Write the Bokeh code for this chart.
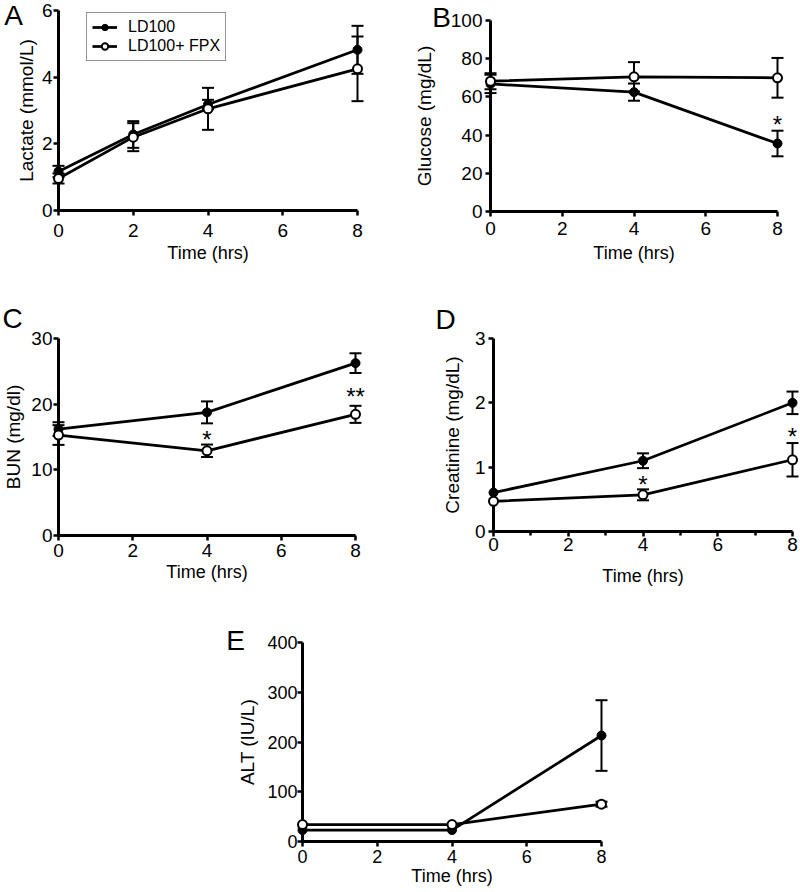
import math
from bokeh.plotting import figure
from bokeh.models import Range1d, FixedTicker, Legend, LegendItem, Spacer
from bokeh.layouts import row, column
from bokeh.embed import file_html
from bokeh.resources import INLINE
from bokeh.core.properties import value

# ---------------- data ----------------
series_names = ["LD100", "LD100+ FPX"]

time_lactate = [0, 2, 4, 8]
lactate_ld100 = [1.17, 2.28, 3.18, 4.82]
lactate_ld100_sem = [0.17, 0.40, 0.14, 0.72]
lactate_fpx = [0.96, 2.20, 3.05, 4.25]
lactate_fpx_sem = [0.15, 0.42, 0.63, 0.97]

time_other = [0, 4, 8]
glucose_ld100 = [66.8, 62.5, 35.6]
glucose_ld100_sem = [4.8, 4.5, 6.7]
glucose_fpx = [68.2, 70.5, 70.0]
glucose_fpx_sem = [4.2, 7.7, 10.4]

bun_ld100 = [16.2, 18.75, 26.25]
bun_ld100_sem = [1.05, 1.67, 1.5]
bun_fpx = [15.3, 12.9, 18.45]
bun_fpx_sem = [1.5, 0.95, 1.3]

creat_ld100 = [0.605, 1.10, 2.00]
creat_ld100_sem = [0.0, 0.115, 0.175]
creat_fpx = [0.47, 0.57, 1.115]
creat_fpx_sem = [0.0, 0.085, 0.26]

alt_ld100 = [23, 23, 213]
alt_ld100_sem = [0, 0, 71]
alt_fpx = [34, 34, 75]
alt_fpx_sem = [0, 0, 5]

x_ticks = [0, 2, 4, 6, 8]
x_minor_ticks_creat = [1, 3, 5, 7]
yticks_lactate = [0, 2, 4, 6]
yticks_glucose = [0, 20, 40, 60, 80, 100]
yticks_bun = [0, 10, 20, 30]
yticks_creat = [0, 1, 2, 3]
yticks_alt = [0, 100, 200, 300, 400]

sig_glucose_x = [8]
sig_glucose_y = [48.5]
sig_glucose_text = ["*"]
sig_bun_x = [4, 8]
sig_bun_y = [15.4, 21.95]
sig_bun_text = ["*", "**"]
sig_creat_x = [4, 8]
sig_creat_y = [0.81, 1.556]
sig_creat_text = ["*", "*"]

FONT = "Liberation Sans"
TOP_LEVEL = "overlay"   # drawn above axes and not clipped to the frame


def make_panel(box, axes, ymax, yticks, ytitle, letter, letter_c,
               t, ld, ld_e, fx, fx_e, sig=None, minor=None,
               tick_fs="19px", xtitle_fs="18px", ylab_std=2, ytitle_std=2,
               xlab_std=4, xtitle_std=2):
    fl, ft, fw, fh = box
    x0, x8, ytop, y0 = axes
    ppx = (x8 - x0) / 8.0
    ppy = (y0 - ytop) / ymax
    p = figure(width=fw, height=fh,
               x_range=Range1d(0, 8), y_range=Range1d(0, ymax),
               min_border_left=x0 - fl, min_border_right=(fl + fw) - x8,
               min_border_top=ytop - ft, min_border_bottom=(ft + fh) - y0,
               output_backend="svg", toolbar_location=None, title=None)
    p.outline_line_color = None
    p.xgrid.visible = False
    p.ygrid.visible = False
    p.background_fill_color = "white"
    p.border_fill_color = "white"

    p.xaxis.ticker = FixedTicker(ticks=x_ticks, minor_ticks=minor or [])
    p.yaxis.ticker = FixedTicker(ticks=yticks)
    for ax in (p.xaxis[0], p.yaxis[0]):
        ax.axis_line_width = 3
        ax.axis_line_color = "black"
        ax.major_tick_line_width = 2.5
        ax.major_tick_line_color = "black"
        ax.major_tick_in = 0
        ax.major_tick_out = 5
        ax.minor_tick_in = 0
        ax.minor_tick_out = 4
        ax.minor_tick_line_width = 2.5
        ax.minor_tick_line_color = "black"
        ax.major_label_text_font = FONT
        ax.major_label_text_font_size = tick_fs
        ax.major_label_text_color = "black"
        ax.axis_label_text_font = FONT
        ax.axis_label_text_font_style = "normal"
        ax.axis_label_text_color = "black"
    p.yaxis.minor_tick_line_color = None
    if not minor:
        p.xaxis.minor_tick_line_color = None
    p.yaxis.major_label_standoff = ylab_std
    p.xaxis.major_label_standoff = xlab_std
    p.xaxis.axis_label = "Time (hrs)"
    p.xaxis.axis_label_text_font_size = xtitle_fs
    p.xaxis.axis_label_standoff = xtitle_std
    p.yaxis.axis_label = ytitle
    p.yaxis.axis_label_text_font_size = "19px"
    p.yaxis.axis_label_standoff = ytitle_std

    # panel letter (text glyph outside the frame)
    p.text(x=[(letter_c[0] - x0) / ppx], y=[(y0 - letter_c[1]) / ppy], text=[letter],
           text_font=value(FONT), text_font_size="28px", text_align="center",
           text_baseline="middle", text_color="black", level=TOP_LEVEL)

    # lines
    l1 = p.line(t, ld, line_width=2.75, line_color="black", level=TOP_LEVEL)
    l2 = p.line(t, fx, line_width=2.75, line_color="black", level=TOP_LEVEL)
    # error bars
    for vals, errs in ((ld, ld_e), (fx, fx_e)):
        xs = [ti for ti, e in zip(t, errs) if e > 0]
        lo = [v - e for v, e in zip(vals, errs) if e > 0]
        hi = [v + e for v, e in zip(vals, errs) if e > 0]
        if xs:
            p.segment(x0=xs, y0=lo, x1=xs, y1=hi, line_width=2, line_color="black",
                      level=TOP_LEVEL)
            p.scatter(xs, hi, marker="dash", size=12, line_width=2, line_color="black",
                      level=TOP_LEVEL)
            p.scatter(xs, lo, marker="dash", size=12, line_width=2, line_color="black",
                      level=TOP_LEVEL)
    m1 = p.scatter(t, ld, marker="circle", size=9, fill_color="black",
                   line_color="black", line_width=1, level=TOP_LEVEL)
    m2 = p.scatter(t, fx, marker="circle", size=9, fill_color="white",
                   line_color="black", line_width=2, level=TOP_LEVEL)
    if sig is not None:
        sx, sy, st = sig
        shift = 5.5 / ppy  # asterisk glyph sits above the text middle
        p.text(x=sx, y=[v - shift for v in sy], text=st, text_font=value(FONT),
               text_font_size="24px", text_align="center", text_baseline="middle",
               text_color="black", level=TOP_LEVEL)
    return p, (l1, m1), (l2, m2)


pA, rA1, rA2 = make_panel((0, 0, 400, 293), (58, 357, 10, 210), 6, yticks_lactate,
                          "Lactate (mmol/L)", "A", (13, 15),
                          time_lactate, lactate_ld100, lactate_ld100_sem,
                          lactate_fpx, lactate_fpx_sem,
                          ylab_std=1, ytitle_std=2, xlab_std=8, xtitle_std=3)
legend = Legend(items=[LegendItem(label=series_names[0], renderers=list(rA1)),
                       LegendItem(label=series_names[1], renderers=list(rA2))],
                location=(28, 149), padding=5, spacing=1, margin=0,
                glyph_width=25, glyph_height=16, label_height=16,
                label_standoff=11, label_text_font=FONT,
                label_text_font_size="16px", label_text_color="black",
                border_line_color="#222222", border_line_width=1.5,
                background_fill_color="white", background_fill_alpha=1.0)
pA.add_layout(legend)

pB, _, _ = make_panel((400, 0, 400, 293), (490, 777, 20, 211), 100, yticks_glucose,
                      "Glucose (mg/dL)", "B", (441, 17),
                      time_other, glucose_ld100, glucose_ld100_sem,
                      glucose_fpx, glucose_fpx_sem,
                      sig=(sig_glucose_x, sig_glucose_y, sig_glucose_text),
                      ylab_std=3, ytitle_std=13, xlab_std=5, xtitle_std=5)

pC, _, _ = make_panel((0, 293, 400, 295), (58, 355, 338, 535), 30, yticks_bun,
                      "BUN (mg/dl)", "C", (12, 318),
                      time_other, bun_ld100, bun_ld100_sem, bun_fpx, bun_fpx_sem,
                      sig=(sig_bun_x, sig_bun_y, sig_bun_text),
                      ylab_std=1, ytitle_std=4, xlab_std=3)

pD, _, _ = make_panel((400, 293, 400, 295), (493, 792, 338, 536), 3, yticks_creat,
                      "Creatinine (mg/dL)", "D", (445, 318),
                      time_other, creat_ld100, creat_ld100_sem, creat_fpx, creat_fpx_sem,
                      sig=(sig_creat_x, sig_creat_y, sig_creat_text),
                      minor=x_minor_ticks_creat, ylab_std=3, ytitle_std=9, xlab_std=1,
                      xtitle_std=12)

pE, _, _ = make_panel((188, 588, 460, 302), (302, 601, 642, 841), 400, yticks_alt,
                      "ALT (IU/L)", "E", (235, 640),
                      time_other, alt_ld100, alt_ld100_sem, alt_fpx, alt_fpx_sem,
                      tick_fs="18px", xtitle_fs="18px", ylab_std=0, ytitle_std=6,
                      xlab_std=3, xtitle_std=0)

# each plot wrapped on its own so that frames are not aligned across a row
layout = column(row(column(pA), column(pB)),
                row(column(pC), column(pD)),
                row(Spacer(width=188, height=302), pE))

open("out.html", "w").write(file_html(layout, INLINE))
